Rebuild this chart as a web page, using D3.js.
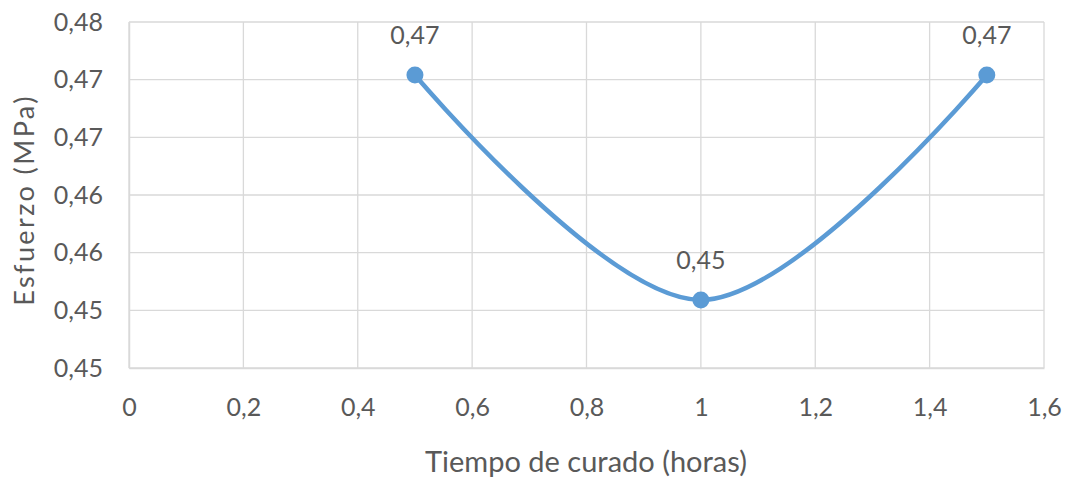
<!DOCTYPE html>
<html>
<head>
<meta charset="utf-8">
<script src="https://cdn.jsdelivr.net/npm/d3@7"></script>
<style>
  html, body { margin: 0; padding: 0; background: #fff; }
  svg { display: block; font-family: Lato, "Open Sans", sans-serif; }
</style>
</head>
<body>
<svg id="chart" width="1071" height="482"></svg>
<script>
// ---- data ----
const hours = [0.5, 1, 1.5];
const stress = [0.4704, 0.4509, 0.4704];
const pointLabels = ["0,47", "0,45", "0,47"];
const xTicks = [0, 0.2, 0.4, 0.6, 0.8, 1, 1.2, 1.4, 1.6];
const xTickLabels = ["0", "0,2", "0,4", "0,6", "0,8", "1", "1,2", "1,4", "1,6"];
const yTicks = [0.445, 0.45, 0.455, 0.46, 0.465, 0.47, 0.475];
const yTickLabels = ["0,45", "0,45", "0,46", "0,46", "0,47", "0,47", "0,48"];
const xTitle = "Tiempo de curado (horas)";
const yTitle = "Esfuerzo (MPa)";

// ---- layout ----
const svg = d3.select("#chart");
const m = { left: 129, right: 1044, top: 22, bottom: 368 };
const x = d3.scaleLinear().domain([0, 1.6]).range([m.left, m.right]);
const y = d3.scaleLinear().domain([0.445, 0.475]).range([m.bottom, m.top]);
const textColor = "#595959";
const gridColor = "#d9d9d9";

// grid
svg.append("g").selectAll("line.h").data(yTicks).join("line")
  .attr("x1", m.left).attr("x2", m.right)
  .attr("y1", d => y(d)).attr("y2", d => y(d))
  .attr("stroke", gridColor).attr("stroke-width", 1.3);
svg.append("g").selectAll("line.v").data(xTicks).join("line")
  .attr("x1", d => x(d)).attr("x2", d => x(d))
  .attr("y1", m.top).attr("y2", m.bottom)
  .attr("stroke", gridColor).attr("stroke-width", 1.3);

// axes
const xAxis = d3.axisBottom(x).tickValues(xTicks).tickSize(0).tickPadding(30)
  .tickFormat((d, i) => xTickLabels[i]);
const gx = svg.append("g").attr("transform", `translate(0,${m.bottom})`).call(xAxis);
gx.select(".domain").attr("stroke", gridColor).attr("stroke-width", 1.5);
gx.selectAll("text").attr("fill", textColor).style("font-size", "25px").style("font-family", "Lato, sans-serif");

const yAxis = d3.axisLeft(y).tickValues(yTicks).tickSize(0).tickPadding(26)
  .tickFormat((d, i) => yTickLabels[i]);
const gy = svg.append("g").attr("transform", `translate(${m.left},0)`).call(yAxis);
gy.select(".domain").attr("stroke", gridColor).attr("stroke-width", 1.5);
gy.selectAll("text").attr("fill", textColor).style("font-size", "25px").style("font-family", "Lato, sans-serif");

// axis titles
svg.append("text").attr("x", 586).attr("y", 472)
  .attr("text-anchor", "middle").attr("fill", textColor)
  .style("font-size", "29px").text(xTitle);
svg.append("text").attr("transform", `translate(34,200) rotate(-90)`)
  .attr("text-anchor", "middle").attr("fill", textColor)
  .style("font-size", "27px").style("letter-spacing", "2.4px").text(yTitle);

// series
const pts = hours.map((h, i) => [h, stress[i]]);
const line = d3.line().x(d => x(d[0])).y(d => y(d[1])).curve(d3.curveCatmullRom.alpha(0));
svg.append("path").datum(pts).attr("d", line)
  .attr("fill", "none").attr("stroke", "#5B9BD5").attr("stroke-width", 4.5)
  .attr("stroke-linecap", "round");
svg.append("g").selectAll("circle").data(pts).join("circle")
  .attr("cx", d => x(d[0])).attr("cy", d => y(d[1])).attr("r", 8.5)
  .attr("fill", "#5B9BD5");
svg.append("g").selectAll("text").data(pts).join("text")
  .attr("x", d => x(d[0])).attr("y", d => y(d[1]) - 31)
  .attr("text-anchor", "middle").attr("fill", textColor)
  .style("font-size", "25px").text((d, i) => pointLabels[i]);
</script>
</body>
</html>
